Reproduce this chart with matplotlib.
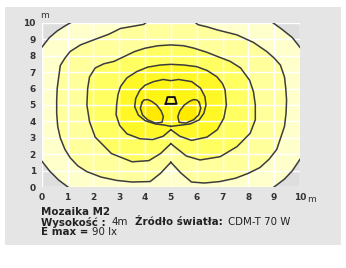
import matplotlib
matplotlib.use("Agg")
import matplotlib.pyplot as plt
from matplotlib.patches import Rectangle

# ---------------- data (metres) ----------------
x_ticks = list(range(11))
y_ticks = list(range(11))
x_labels = [str(v) for v in x_ticks]
y_labels = [str(v) for v in y_ticks]

# outermost isoline: four corner arcs
c1_tl_x = [0.0, 0.3, 0.6, 0.95, 1.12]
c1_tl_y = [8.5, 9.1, 9.5, 9.85, 10.0]
c1_tr_x = [8.95, 9.3, 9.7, 10.0]
c1_tr_y = [10.0, 9.6, 9.1, 8.5]
c1_bl_x = [0.0, 0.3, 0.65, 1.03]
c1_bl_y = [1.6, 1.0, 0.45, 0.0]
c1_br_x = [8.98, 9.4, 9.7, 10.0]
c1_br_y = [0.0, 0.5, 1.0, 1.7]

c2_x = [5.0, 4.6, 4.2, 3.5, 2.9, 2.3, 1.75, 1.4, 1.1, 0.9, 0.72, 0.62, 0.58, 0.58,
        0.6, 0.65, 0.72, 0.9, 1.1, 1.5, 2.0, 2.6, 3.05, 3.6, 3.95, 4.2, 5.0, 5.8,
        6.05, 6.4, 6.8, 7.56, 8.2, 8.72, 9.0, 9.24, 9.4, 9.45, 9.48, 9.46, 9.4,
        9.25, 9.1, 8.8, 8.45, 8.0, 7.5, 6.9, 6.3, 5.8, 5.4, 5.0]
c2_y = [1.52, 0.85, 0.35, 0.32, 0.42, 0.62, 0.95, 1.3, 1.8, 2.3, 3.0, 3.7, 4.5, 5.3,
        6.0, 6.6, 7.4, 7.85, 8.25, 8.65, 8.95, 9.3, 9.65, 9.8, 9.9, 10.2, 10.4, 10.2,
        9.88, 9.75, 9.56, 9.26, 8.8, 8.24, 7.85, 7.43, 6.7, 6.0, 5.3, 4.5, 3.7,
        3.0, 2.3, 1.7, 1.2, 0.85, 0.55, 0.35, 0.26, 0.32, 0.85, 1.52]

c3_x = [5.0, 4.6, 4.15, 3.5, 2.7, 2.07, 1.85, 1.75, 1.78, 1.85, 2.07, 2.4, 2.8, 3.2,
        3.6, 4.0, 4.5, 5.0, 5.5, 5.9, 6.4, 6.8, 7.3, 7.7, 8.05, 8.2, 8.27, 8.27,
        8.07, 7.56, 6.91, 6.13, 5.6, 5.0]
c3_y = [2.65, 2.05, 1.62, 1.55, 2.05, 3.05, 4.0, 5.0, 6.0, 6.7, 7.25, 7.5, 7.65, 7.95,
        8.25, 8.45, 8.6, 8.65, 8.6, 8.45, 8.2, 7.95, 7.65, 7.25, 6.5, 5.8, 5.0, 4.1,
        3.28, 2.47, 1.86, 1.66, 1.9, 2.65]

c4_x = [5.0, 4.7, 4.3, 3.8, 3.3, 3.02, 2.88, 2.9, 2.95, 3.05, 3.3, 3.68, 4.1, 4.59,
        5.0, 5.5, 6.0, 6.4, 6.78, 7.0, 7.1, 7.15, 7.05, 6.8, 6.4, 5.8, 5.35, 5.0]
c4_y = [3.5, 3.1, 2.9, 2.95, 3.25, 3.75, 4.4, 5.0, 5.6, 6.12, 6.65, 7.03, 7.3, 7.43,
        7.47, 7.43, 7.33, 7.1, 6.72, 6.3, 5.91, 5.0, 4.2, 3.5, 3.05, 2.85, 3.1, 3.5]

c5_x = [5.0, 4.75, 4.4, 4.0, 3.74, 3.6, 3.64, 3.8, 4.0, 4.33, 4.7, 5.0, 5.3, 5.81,
        6.15, 6.32, 6.36, 6.28, 6.1, 5.75, 5.4, 5.0]
c5_y = [3.7, 3.78, 3.85, 4.05, 4.39, 4.9, 5.4, 5.9, 6.2, 6.42, 6.55, 6.48, 6.55, 6.42,
        6.02, 5.5, 5.0, 4.5, 4.1, 3.85, 3.78, 3.7]

lobe_l_x = [3.88, 3.95, 4.1, 4.26, 4.45, 4.62, 4.71, 4.66, 4.4, 4.1, 3.9, 3.82, 3.88]
lobe_l_y = [5.15, 5.3, 5.33, 5.22, 5.0, 4.65, 4.3, 3.95, 3.9, 4.1, 4.4, 4.8, 5.15]
lobe_r_x = [6.1, 6.02, 5.88, 5.72, 5.52, 5.35, 5.27, 5.32, 5.58, 5.88, 6.08, 6.16, 6.1]
lobe_r_y = [5.15, 5.3, 5.33, 5.22, 5.0, 4.65, 4.3, 3.95, 3.9, 4.1, 4.4, 4.8, 5.15]

lum_x = [4.8, 5.22, 5.15, 4.87, 4.8]
lum_y = [5.07, 5.07, 5.48, 5.48, 5.07]

# ---------------- style ----------------
W, H = 346, 268
fig = plt.figure(figsize=(W / 100, H / 100), dpi=100)
fig.patch.set_facecolor("white")

def fx(px):
    return px / W

def fy(py):
    return 1 - py / H

panel = Rectangle((fx(5), fy(245)), (340.7 - 5) / W, (245 - 6.7) / H,
                  transform=fig.transFigure, facecolor="#e5e5e5", edgecolor="none", zorder=-10)
fig.patches.append(panel)

ax = fig.add_axes([fx(41.7), fy(187.3), (300 - 41.7) / W, (187.3 - 22.7) / H])
ax.set_zorder(5)
ax.set_xlim(0, 10)
ax.set_ylim(0, 10)

col_gray = "#dedede"
col_b1 = "#ffffcc"
col_b2 = "#ffff9c"
col_b3 = "#ffff62"
col_b4 = "#fff826"
col_b5 = "#fff514"
col_lobe = "#ffea00"
line_col = "#3c3c3c"
lw = 1.1

ax.set_facecolor(col_b1)

# corners beyond outermost line
ax.fill(c1_tl_x + [0.0], c1_tl_y + [10.0], color=col_gray, lw=0, zorder=1)
ax.fill(c1_tr_x + [10.0], c1_tr_y + [10.0], color=col_gray, lw=0, zorder=1)
ax.fill(c1_bl_x + [0.0], c1_bl_y + [0.0], color=col_gray, lw=0, zorder=1)
ax.fill(c1_br_x + [10.0], c1_br_y + [0.0], color=col_gray, lw=0, zorder=1)

ax.fill(c2_x, c2_y, color=col_b2, lw=0, zorder=1)
ax.fill(c3_x, c3_y, color=col_b3, lw=0, zorder=1)
ax.fill(c4_x, c4_y, color=col_b4, lw=0, zorder=1)
ax.fill(c5_x, c5_y, color=col_b5, lw=0, zorder=1)
ax.fill(lobe_l_x, lobe_l_y, color=col_lobe, lw=0, zorder=1)
ax.fill(lobe_r_x, lobe_r_y, color=col_lobe, lw=0, zorder=1)

# grid
for v in x_ticks:
    ax.axvline(v, color="white", lw=1.0, zorder=2)
for v in y_ticks:
    ax.axhline(v, color="white", lw=1.0, zorder=2)

for xs, ys in [(c1_tl_x, c1_tl_y), (c1_tr_x, c1_tr_y), (c1_bl_x, c1_bl_y), (c1_br_x, c1_br_y),
               (c2_x, c2_y), (c3_x, c3_y), (c4_x, c4_y), (c5_x, c5_y),
               (lobe_l_x, lobe_l_y), (lobe_r_x, lobe_r_y)]:
    ax.plot(xs, ys, color=line_col, lw=lw, zorder=3, solid_joinstyle="round")
ax.plot(lum_x, lum_y, color="#111111", lw=1.4, zorder=4)

for s in ax.spines.values():
    s.set_visible(False)

tick_font = dict(size=6.5, weight="bold", color="#333333")
ax.set_xticks(x_ticks)
ax.set_xticklabels(x_labels, **tick_font)
ax.set_yticks(y_ticks)
ax.set_yticklabels(y_labels, **tick_font)
ax.tick_params(length=0, pad=4.2)

fig.text(fx(307.5), fy(199), "m", size=6.5, color="#333333", ha="left", va="center")
fig.text(fx(40.5), fy(15), "m", size=6.5, color="#333333", ha="left", va="center")

tf = dict(size=7.4, color="#222222", va="center", ha="left")
fig.text(fx(40.7), fy(211.7), "Mozaika M2", weight="bold", **tf)
fig.text(fx(40.7), fy(222.3), "Wysokość :", weight="bold", **tf)
fig.text(fx(111.7), fy(222.3), "4m", **tf)
fig.text(fx(135), fy(222.3), "Źródło światła:", weight="bold", **tf)
fig.text(fx(228), fy(222.3), "CDM-T 70 W", **tf)
fig.text(fx(40.7), fy(232.3), "E max =", weight="bold", **tf)
fig.text(fx(91.7), fy(232.3), "90 lx", **tf)

fig.savefig("out.png", dpi=100, facecolor="white")
